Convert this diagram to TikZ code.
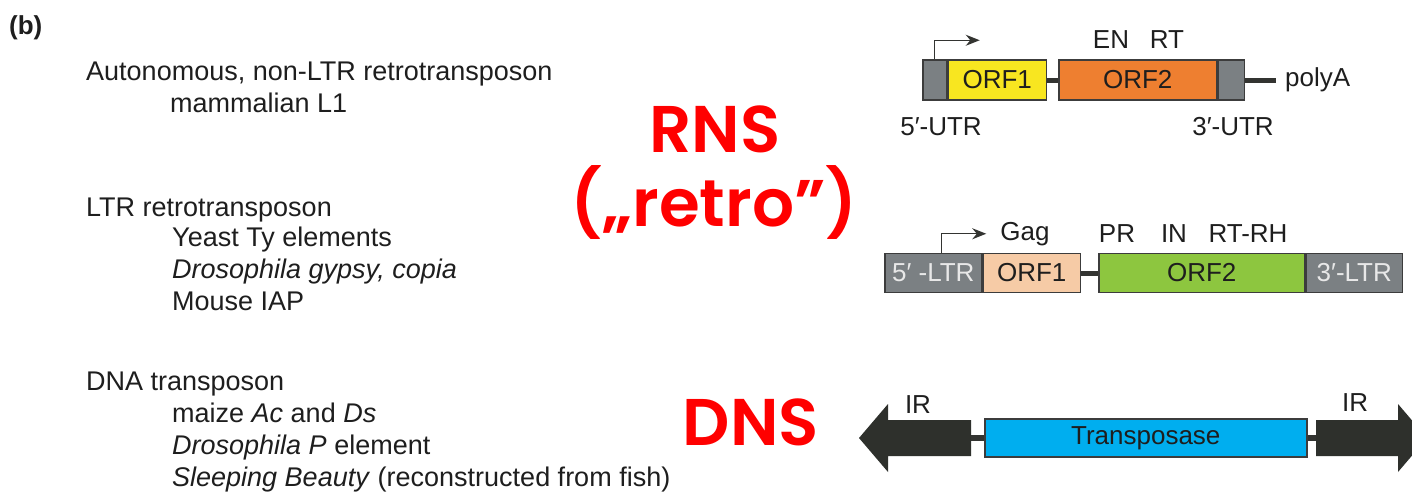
\documentclass[tikz,border=0pt]{standalone}
\usepackage{fontspec}
\setmainfont{Liberation Sans}
\newfontfamily\handfont{Poppins}[BoldFont={Poppins SemiBold}]
\usetikzlibrary{arrows.meta, positioning}

\definecolor{utrgray}{HTML}{7B8083}
\definecolor{orfyellow}{HTML}{F8E620}
\definecolor{orforange}{HTML}{EE7F30}
\definecolor{gagpeach}{HTML}{F6CBA6}
\definecolor{polgreen}{HTML}{8DC63F}
\definecolor{tpblue}{HTML}{00AEEF}
\definecolor{irfill}{HTML}{2E302C}
\definecolor{boxline}{HTML}{3C3C3C}
\definecolor{linkgray}{HTML}{333431}
\definecolor{ink}{HTML}{1E1E1E}
\definecolor{ltrtext}{HTML}{E8E8E8}
\definecolor{notered}{HTML}{FF0000}

\tikzset{
  seg/.style={draw=boxline, line width=1.5pt, inner sep=0pt, minimum height=40pt,
    font=\fontsize{26}{26}\selectfont, text=ink},
  link/.style={draw=linkgray, line width=5pt},
  promoter/.style={draw=linkgray, line width=1.4pt, -{Stealth[length=14pt, width=11pt]}},
  tag/.style={inner sep=0pt, font=\fontsize{26}{26}\selectfont, text=ink},
  head/.style={anchor=base west, inner sep=0pt, font=\fontsize{27}{27}\selectfont, text=ink},
  note/.style={anchor=base, inner sep=0pt, text=notered,
    font=\handfont\bfseries\fontsize{66}{66}\selectfont},
}

\begin{document}
\begin{tikzpicture}[x=1pt, y=-1pt]
  \useasboundingbox (0,0) rectangle (1412,493);
  \clip (0,0) rectangle (1412,493);
  \fill[white] (0,0) rectangle (1412,493);

  % left column
  \node[head, font=\bfseries\fontsize{26}{26}\selectfont] (panel) at (9,34) {(b)};
  \node[head] (nonltr) at (86,80) {Autonomous, non-LTR retrotransposon};
  \node[head] (lone)   at (170,112) {mammalian L1};
  \node[head] (ltr)    at (86,216) {LTR retrotransposon};
  \node[head] (ty)     at (172,246) {Yeast Ty elements};
  \node[head] (gypsy)  at (172,278) {\itshape Drosophila gypsy, copia};
  \node[head] (iap)    at (172,310) {Mouse IAP};
  \node[head] (dna)    at (86,390) {DNA transposon};
  \node[head] (acds)   at (172,422) {maize \textit{Ac} and \textit{Ds}};
  \node[head] (pel)    at (172,454) {\textit{Drosophila P} element};
  \node[head] (sb)     at (172,486) {\textit{Sleeping Beauty} (reconstructed from fish)};

  % red notes
  \node[note] (rns)   at (715,152) {RNS};
  \node[note] (retro) at (714,226) {(„retro”)};
  \node[note] (dns)   at (751,445) {DNS};

  % L1
  \node[seg, fill=utrgray, anchor=west, minimum width=24pt] (utr5) at (922,80) {};
  \node[seg, fill=orfyellow, minimum width=98pt, right=0pt of utr5] (orf1) {ORF1};
  \node[seg, fill=orforange, minimum width=158pt, right=11pt of orf1] (orf2) {ORF2};
  \node[seg, fill=utrgray, minimum width=26pt, right=0pt of orf2] (utr3) {};
  \node[tag, anchor=west] (polya) at (1285,80) {polyA};
  \draw[link] (orf1.east) -- (orf2.west);
  \draw[link, shorten >=9pt] (utr3.east) -- (polya.west);
  \draw[promoter] (utr5.north) |- ++(45,-19);
  \node[tag] (en) at (1111,40) {EN};
  \node[tag] (rt) at (1167,40) {RT};
  \node[tag] (utr5lbl) at (941,127) {5′-UTR};
  \node[tag] (utr3lbl) at (1233,127) {3′-UTR};

  % LTR retrotransposon
  \node[seg, fill=utrgray, text=ltrtext, anchor=west, minimum width=97pt, minimum height=39pt] (ltr5) at (884,273) {5′ -LTR};
  \node[seg, fill=gagpeach, minimum width=97pt, minimum height=39pt, right=0pt of ltr5] (gag) {ORF1};
  \node[seg, fill=polgreen, minimum width=206pt, minimum height=39pt, right=17pt of gag] (pol) {ORF2};
  \node[seg, fill=utrgray, text=ltrtext, minimum width=96pt, minimum height=39pt, right=0pt of pol] (ltr3) {3′-LTR};
  \draw[link] (gag.east) -- (pol.west);
  \draw[promoter] ([xshift=8pt]ltr5.north) |- ++(45,-19);
  \node[tag] (gaglbl) at (1025,234) {Gag};
  \node[tag] (pr)     at (1117,234) {PR};
  \node[tag] (in)     at (1174,234) {IN};
  \node[tag] (rtrh)   at (1248,234) {RT-RH};

  % DNA transposon
  \node[seg, fill=tpblue, anchor=west, minimum width=322pt, minimum height=38pt] (tp) at (984,438) {Transposase};
  \coordinate (irL) at (971,438);
  \coordinate (irR) at (1316,438);
  \fill[irfill] (irL) ++(0,-18) -- ++(-83,0) -- ++(0,-16) -- ++(-29,34)
    -- ++(29,34) -- ++(0,-16) -- ++(83,0) -- cycle;
  \fill[irfill] (irR) ++(0,-18) -- ++(82,0) -- ++(0,-16) -- ++(29,34)
    -- ++(-29,34) -- ++(0,-16) -- ++(-82,0) -- cycle;
  \draw[link, line width=6pt] (irL) -- (tp.west);
  \draw[link, line width=6pt] (tp.east) -- (irR);
  \node[tag] (irLlbl) at (918,405) {IR};
  \node[tag] (irRlbl) at (1355,403) {IR};
\end{tikzpicture}
\end{document}
